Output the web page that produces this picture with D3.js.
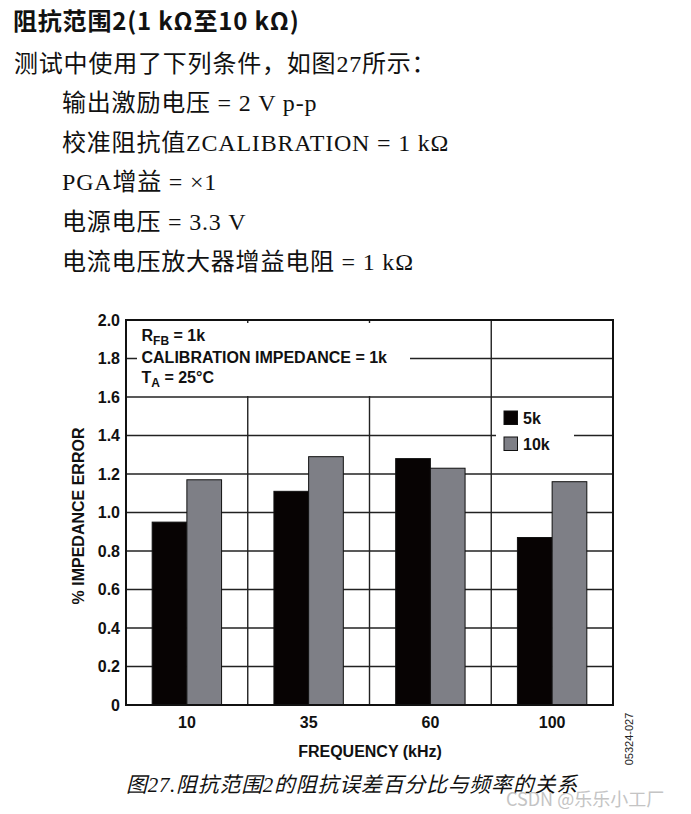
<!DOCTYPE html>
<html><head><meta charset="utf-8">
<script src="https://cdn.jsdelivr.net/npm/d3@7"></script>
<style>
body{margin:0;background:#fff;}
svg{display:block;}
</style></head>
<body>
<script>
const categories = ["10","35","60","100"];
const seriesNames = ["5k","10k"];
const values5k = [0.95, 1.11, 1.28, 0.87];
const values10k = [1.17, 1.29, 1.23, 1.16];
const yTicks = [0,0.2,0.4,0.6,0.8,1.0,1.2,1.4,1.6,1.8,2.0];
const headingText = "阻抗范围2(1 kΩ至10 kΩ)";
const introText = "测试中使用了下列条件，如图27所示：";
const conditionLines = ["输出激励电压 = 2 V p-p","校准阻抗值ZCALIBRATION = 1 kΩ","PGA增益 = ×1","电源电压 = 3.3 V","电流电压放大器增益电阻 = 1 kΩ"];
const captionText = "图27.阻抗范围2的阻抗误差百分比与频率的关系";

const W = 691, H = 814;
const svg = d3.select("body").append("svg").attr("width", W).attr("height", H);

const serif = "'Liberation Serif','Noto Sans CJK SC',serif";
const cjkBold = "'Noto Sans CJK SC',sans-serif";
const arial = "'Liberation Sans',Arial,sans-serif";

// Header text
svg.append("text").attr("x", 13).attr("y", 30).attr("font-family", cjkBold)
  .attr("font-weight", 700).attr("font-size", 24).attr("letter-spacing", 0.8).attr("fill", "#111").text(headingText);
svg.append("text").attr("x", 14).attr("y", 72).attr("font-family", serif)
  .attr("font-size", 24).attr("fill", "#111").attr("letter-spacing", 0.8).text(introText);
conditionLines.forEach((t, i) => {
  svg.append("text").attr("x", 62).attr("y", 111 + i * 39.7).attr("font-family", serif)
    .attr("font-size", 24).attr("fill", "#111").attr("letter-spacing", 0.8).text(t);
});

// Chart
const m = {left: 126, top: 320, right: 613, bottom: 705};
const pw = m.right - m.left, ph = m.bottom - m.top;
const g = svg.append("g").attr("transform", `translate(${m.left},${m.top})`);

const x0 = d3.scaleBand().domain(categories).range([0, pw]).paddingInner(0.43).paddingOuter(0.215);
const x1 = d3.scaleBand().domain(seriesNames).range([0, x0.bandwidth()]);
const y = d3.scaleLinear().domain([0, 2]).range([ph, 0]);
const step = x0.step();
const colors = {"5k": "#070303", "10k": "#7e7f86"};

// gridlines
g.selectAll("line.hg").data(yTicks.filter(d => d > 0 && d < 2)).join("line")
  .attr("x1", 0).attr("x2", pw).attr("y1", d => y(d)).attr("y2", d => y(d))
  .attr("stroke", "#222").attr("stroke-width", 1.4);
g.selectAll("line.vg").data(categories.slice(0, -1)).join("line")
  .attr("x1", d => x0(d) - x0.paddingOuter() * step + step)
  .attr("x2", d => x0(d) - x0.paddingOuter() * step + step)
  .attr("y1", 0).attr("y2", ph)
  .attr("stroke", "#222").attr("stroke-width", 1.4);

// bars
const series = [values5k, values10k];
categories.forEach((c, ci) => {
  seriesNames.forEach((s, si) => {
    const v = series[si][ci];
    g.append("rect").attr("x", x0(c) + x1(s)).attr("width", x1.bandwidth())
      .attr("y", y(v)).attr("height", y(0) - y(v))
      .attr("fill", colors[s]).attr("stroke", "#111").attr("stroke-width", 1);
  });
});

// annotation box (white background covers grid)
g.append("rect").attr("x", 11).attr("y", 3).attr("width", 273).attr("height", 73).attr("fill", "#fff");
const ann = g.append("g").attr("font-family", arial).attr("font-weight", 700).attr("font-size", 16).attr("fill", "#111");
const t1 = ann.append("text").attr("x", 15.5).attr("y", 20.7);
t1.append("tspan").text("R");
t1.append("tspan").attr("font-size", 12).attr("dy", 4).text("FB");
t1.append("tspan").attr("dy", -4).text(" = 1k");
ann.append("text").attr("x", 15.5).attr("y", 43).text("CALIBRATION IMPEDANCE = 1k");
const t3 = ann.append("text").attr("x", 15.5).attr("y", 63);
t3.append("tspan").text("T");
t3.append("tspan").attr("font-size", 12).attr("dy", 4).text("A");
t3.append("tspan").attr("dy", -4).text(" = 25°C");

// legend
g.append("rect").attr("x", 370).attr("y", 80).attr("width", 78).attr("height", 56).attr("fill", "#fff");
seriesNames.forEach((s, i) => {
  g.append("rect").attr("x", 378).attr("y", 91 + i * 26).attr("width", 13.5).attr("height", 13.5)
    .attr("fill", colors[s]).attr("stroke", "#111").attr("stroke-width", 1);
  g.append("text").attr("x", 397).attr("y", 104 + i * 26).attr("font-family", arial)
    .attr("font-weight", 700).attr("font-size", 16).attr("fill", "#111").text(s);
});

// frame
g.append("rect").attr("x", 0).attr("y", 0).attr("width", pw).attr("height", ph)
  .attr("fill", "none").attr("stroke", "#111").attr("stroke-width", 2);

// y axis
const yAxis = d3.axisLeft(y).tickValues(yTicks).tickSize(0).tickPadding(6)
  .tickFormat(d => d === 0 ? "0" : d3.format(".1f")(d));
const ya = g.append("g").call(yAxis);
ya.select(".domain").remove();
ya.selectAll("text").attr("font-family", arial).attr("font-weight", 700).attr("font-size", 16).attr("fill", "#111");

// x axis
const xAxis = d3.axisBottom(x0).tickSize(0).tickPadding(11.5);
const xa = g.append("g").attr("transform", `translate(0,${ph})`).call(xAxis);
xa.select(".domain").remove();
xa.selectAll("text").attr("font-family", arial).attr("font-weight", 700).attr("font-size", 16).attr("fill", "#111");

// axis titles
svg.append("text").attr("x", 370).attr("y", 757).attr("text-anchor", "middle")
  .attr("font-family", arial).attr("font-weight", 700).attr("font-size", 16).attr("fill", "#111").text("FREQUENCY (kHz)");
svg.append("text").attr("transform", `translate(83.5,516) rotate(-90)`).attr("text-anchor", "middle")
  .attr("font-family", arial).attr("font-weight", 700).attr("font-size", 16).attr("fill", "#111").text("% IMPEDANCE ERROR");
svg.append("text").attr("transform", `translate(633,739) rotate(-90)`).attr("text-anchor", "middle")
  .attr("font-family", arial).attr("font-size", 11).attr("fill", "#222").text("05324-027");

// caption
svg.append("text").attr("x", 126).attr("y", 792).attr("font-family", serif).attr("font-style", "italic")
  .attr("font-size", 21).attr("fill", "#111").attr("letter-spacing", 0.7).text(captionText);

// watermark (overlaps the caption's end, as in the reference)
svg.append("text").attr("x", 506).attr("y", 806).attr("font-family", "'Noto Sans CJK SC',sans-serif")
  .attr("font-size", 18).attr("fill", "#c4c4c4").text("CSDN @乐乐小工厂");
</script>
</body></html>
